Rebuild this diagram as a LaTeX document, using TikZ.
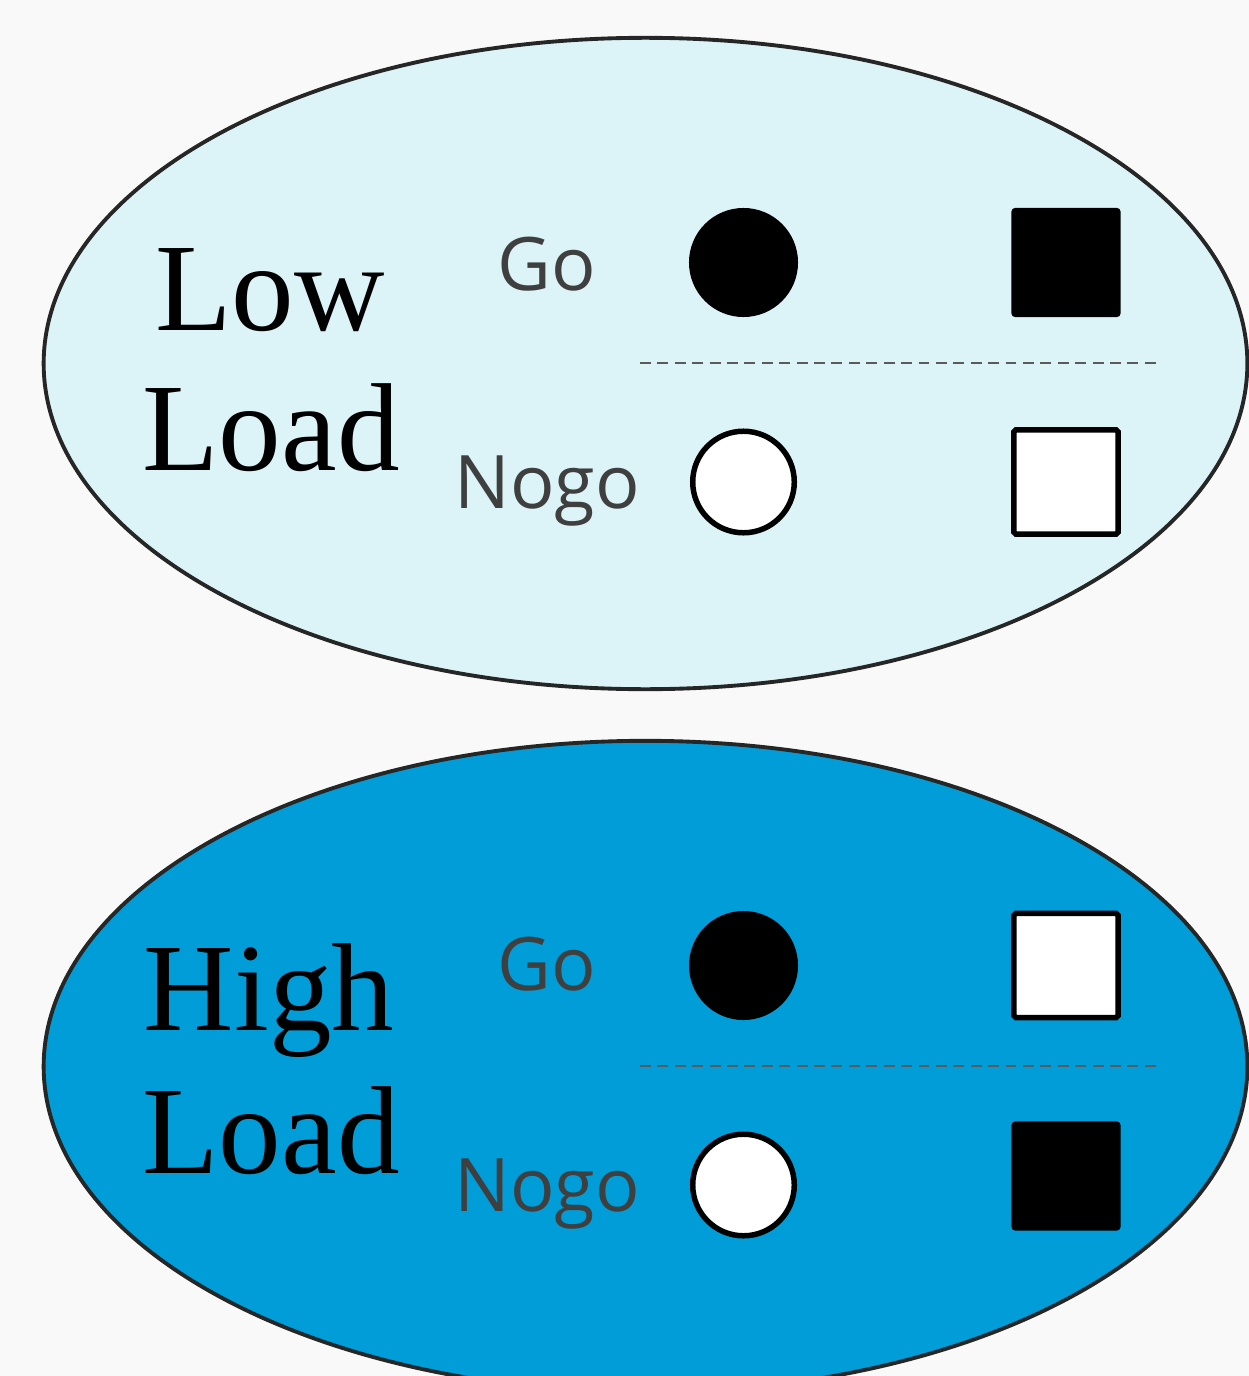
\documentclass[tikz,border=0pt]{standalone}
\usepackage{fontspec}
\setmainfont{Liberation Serif}
\newfontfamily\gofont{Open Sans}
\usetikzlibrary{shapes.geometric}

\definecolor{paper}{RGB}{249,249,249}
\definecolor{lowfill}{RGB}{220,244,248}
\definecolor{highfill}{RGB}{0,157,217}
\definecolor{rim}{RGB}{38,38,38}
\definecolor{labelgray}{RGB}{63,63,63}
\definecolor{sepgray}{RGB}{90,90,90}

\begin{document}
\begin{tikzpicture}[x = 0.01cm, y = -0.01cm]
\tikzstyle{LoadBlob}=[shape = ellipse,
                      minimum width = 12.03cm,
                      minimum height = 6.51cm,
                      inner sep = 0pt,
                      line width = 1.1pt,
                      draw = rim]
\tikzstyle{LoadWord}=[anchor = base, inner sep = 0pt,
                      font = \fontsize{35.6}{40}\selectfont]
\tikzstyle{TrialWord}=[anchor = base, inner sep = 0pt, text = labelgray,
                       font = \gofont\fontsize{21}{24}\selectfont]
\tikzstyle{FullDot}=[shape = circle, minimum size = 1.09cm,
                     inner sep = 0pt, fill = black]
\tikzstyle{EmptyDot}=[shape = circle, minimum size = 1.015cm,
                      inner sep = 0pt, fill = white, draw = black,
                      line width = 1.56pt]
\tikzstyle{FullBox}=[shape = rectangle, minimum size = 1.09cm,
                     inner sep = 0pt, fill = black, rounded corners = 1pt]
\tikzstyle{EmptyBox}=[shape = rectangle, minimum size = 1.04cm,
                      inner sep = 0pt, fill = white, draw = black,
                      line width = 1.56pt, rounded corners = 0.5pt]
\tikzstyle{Separator}=[draw = sepgray, line width = 0.7pt,
                       dash pattern = on 3.1pt off 1.85pt]

\fill[paper] (0,0) rectangle (1249,1376);
\useasboundingbox (0,0) rectangle (1249,1376);

% low load
\node[LoadBlob, fill = lowfill] (lowblob) at (645.5,363.5) {};
\node[LoadWord] (lowword1) at (270,330) {Low};
\node[LoadWord] (lowword2) at (271,470) {Load};
\node[TrialWord] (lowgo) at (547,290) {Go};
\node[TrialWord] (lownogo) at (547,508) {Nogo};
\node[FullDot] (lowgodot) at (743.5,262.5) {};
\node[EmptyDot] (lownogodot) at (743.5,482) {};
\node[FullBox] (lowgobox) at (1066,262.5) {};
\node[EmptyBox] (lownogobox) at (1066,482) {};
\coordinate (lowsepa) at (640,363);
\coordinate (lowsepb) at (1161,363);
\draw[Separator] (lowsepa) -- (lowsepb);

% high load
\node[LoadBlob, fill = highfill] (highblob) at (645.5,1066.5) {};
\node[LoadWord] (highword1) at (269,1030) {High};
\node[LoadWord] (highword2) at (271,1173) {Load};
\node[TrialWord] (highgo) at (547,990) {Go};
\node[TrialWord] (highnogo) at (547,1211) {Nogo};
\node[FullDot] (highgodot) at (743.5,965.5) {};
\node[EmptyDot] (highnogodot) at (743.5,1185) {};
\node[EmptyBox] (highgobox) at (1066,965.5) {};
\node[FullBox] (highnogobox) at (1066,1176) {};
\coordinate (highsepa) at (640,1066);
\coordinate (highsepb) at (1161,1066);
\draw[Separator] (highsepa) -- (highsepb);
\end{tikzpicture}
\end{document}
